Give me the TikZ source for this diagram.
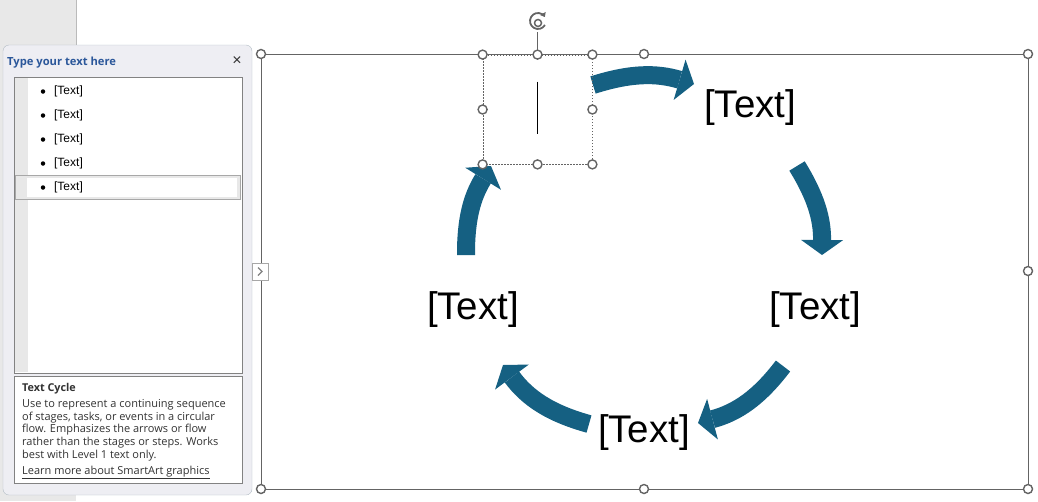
\documentclass[tikz,border=0pt]{standalone}
\usepackage{fontspec}
\setmainfont{Liberation Sans}
\newfontfamily\uifont{Open Sans}
\usetikzlibrary{positioning,arrows.meta}
\definecolor{cacc}{HTML}{156082}
\definecolor{chdl}{RGB}{100,100,100}
\definecolor{cpane}{RGB}{238,238,243}
\definecolor{cpaneb}{RGB}{178,188,196}
\definecolor{cstrip}{RGB}{232,232,232}
\definecolor{cttl}{RGB}{43,87,154}
\definecolor{cline}{RGB}{130,130,130}
\definecolor{ctxt}{RGB}{51,51,51}

\begin{document}
\begin{tikzpicture}[x=1pt, y=-1pt,
  hdl/.style={circle, draw=chdl, fill=white, line width=1.4pt, inner sep=0pt, minimum size=9pt},
  lbl/.style={font=\fontsize{38.5}{40}\selectfont, inner sep=0pt},
  cyc/.style={draw=cacc, line width=18pt, -{Triangle[length=15pt,width=42pt,line width=0pt]}},
  item/.style={anchor=west, font=\fontsize{12}{14}\selectfont, inner sep=0pt},
  dot/.style={circle, fill=black, inner sep=0pt, minimum size=4.5pt},
  ui/.style={text=ctxt, inner sep=0pt, font=\uifont\fontsize{11}{12.8}\selectfont}]
\useasboundingbox (0,0) rectangle (1038,501);

% left side: text pane
\fill[cstrip] (0,0) rectangle (76,501);
\draw[cstrip!80!black, line width=0.6pt] (76,0) -- (76,45);
\draw[cpaneb, fill=cpane, rounded corners=6pt] (3,45) rectangle (252,495);
\node[anchor=west, inner sep=0pt, text=cttl, font=\uifont\bfseries\fontsize{11.2}{13}\selectfont] (ttl) at (7,62.5) {Type your text here};
\node[inner sep=0pt, text=ctxt, font=\fontsize{16}{16}\selectfont] (cls) at (237,61.5) {×};
\draw[cline, fill=white] (14,77) rectangle (242,373);
\fill[cstrip] (15,78) rectangle (28,372);
\draw[cline!70, fill=cstrip] (15,175) rectangle (240,199);
\fill[white] (27,178) rectangle (237,197);
\foreach \y [count=\i] in {91.5,115.5,139.5,163.5,187.5} {
  \node[dot] (b\i) at (43,\y) {};
  \node[item, right=8.5pt of b\i] (i\i) {[Text]};
}
\draw[cline, fill=white] (14,376) rectangle (242,483);
\node[ui, anchor=west, font=\uifont\bfseries\fontsize{10.8}{12.8}\selectfont] (dh) at (22,388.5) {Text Cycle};
\node[ui, anchor=north west, align=left] (dtx) at (22,399) {Use to represent a continuing sequence\\of stages, tasks, or events in a circular\\flow. Emphasizes the arrows or flow\\rather than the stages or steps. Works\\best with Level 1 text only.};
\node[ui, anchor=west] (lnk) at (22,472.5) {\underline{Learn more about SmartArt graphics}};

% SmartArt frame
\draw[chdl, line width=1pt] (261,54) rectangle (1028,489);

% cycle arrows
\coordinate (a1s) at (593,85);  \coordinate (a1e) at (694,84);
\coordinate (a2s) at (797,166); \coordinate (a2e) at (822,255);
\coordinate (a3s) at (783,366); \coordinate (a3e) at (698,423);
\coordinate (a4s) at (589,424); \coordinate (a4e) at (503,365);
\coordinate (a5s) at (466,255); \coordinate (a5e) at (491,166);
\draw[cyc] (a1s) to[bend left=17] (a1e);
\draw[cyc] (a2s) to[bend left=16] (a2e);
\draw[cyc] (a3s) to[bend left=19] (a3e);
\draw[cyc] (a4s) to[bend left=19] (a4e);
\draw[cyc] (a5s) to[bend left=16] (a5e);

% stage texts
\node[lbl] (t2) at (750,108) {[Text]};
\node[lbl] (t3) at (815,310) {[Text]};
\node[lbl] (t4) at (644,433) {[Text]};
\node[lbl] (t5) at (473,310) {[Text]};

% selected text box
\node[draw=chdl, line width=0.8pt, dash pattern=on 1.5pt off 1.5pt, minimum size=109pt, inner sep=0pt] (t1) at (537.5,109.5) {};
\draw[line width=1pt] (t1.center) ++(0,-28) -- ++(0,52);
\coordinate (rot) at (538,21);
\draw[chdl, line width=1.2pt] (t1.north) -- ++(0,-23);
\draw[chdl, line width=1.8pt, -{Triangle[length=4pt,width=6pt]}] (rot) ++(30:8) arc[start angle=30, end angle=330, radius=8];
\draw[chdl, line width=1.5pt] (rot) ++(0,2) circle[radius=3.5];

% handles
\foreach \x/\y [count=\i] in {261/54,644/54,1028/54,261/271,1028/271,261/489,644/489,1028/489}
  \node[hdl] (fh\i) at (\x,\y) {};
\foreach \a [count=\i] in {north west,north,north east,west,east,south west,south,south east}
  \node[hdl] (th\i) at (t1.\a) {};

% collapse tab on top
\node[draw=cline!70, fill=white, minimum width=16pt, minimum height=17pt, inner sep=0pt] (tab) at (260,271.5) {};
\draw[cline, line width=1.2pt] (tab.center) ++(-2,-4) -- ++(4,4) -- ++(-4,4);
\end{tikzpicture}
\end{document}
